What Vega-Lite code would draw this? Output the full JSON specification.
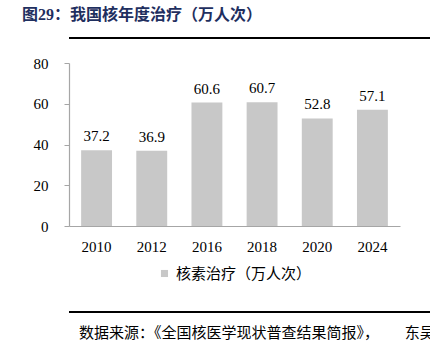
{
  "$schema": "https://vega.github.io/schema/vega-lite/v6.json",
  "background": "white",
  "padding": {"left": 12, "top": 7, "right": 5, "bottom": 4},
  "spacing": 17,
  "align": "none",
  "title": {
    "text": "图29：我国核年度治疗（万人次）",
    "anchor": "start",
    "frame": "bounds",
    "dx": 10,
    "dy": -14,
    "font": "Liberation Serif, Noto Sans CJK SC",
    "fontSize": 16,
    "fontWeight": "bold",
    "color": "#1f2f5f",
    "offset": 0
  },
  "resolve": {"legend": {"color": "independent"}, "scale": {"color": "independent", "x": "independent", "y": "independent"}},
  "config": {
    "view": {"stroke": null},
    "font": "Liberation Serif",
    "legend": {"layout": {"bottom": {"anchor": "middle"}}}
  },
  "vconcat": [
    {
      "width": 403,
      "height": 2,
      "data": {"values": [{"x0": 0, "x1": 1}]},
      "mark": {"type": "rect", "color": "#000000"},
      "encoding": {
        "x": {"field": "x0", "type": "quantitative", "scale": {"domain": [0, 1]}, "axis": null},
        "x2": {"field": "x1"}
      }
    },
    {
      "resolve": {"legend": {"color": "independent"}, "scale": {"color": "independent"}},
      "vconcat": [
        {
          "width": 331,
          "height": 163,
          "data": {
            "values": [
              {"year": "2010", "value": 37.2, "series": "核素治疗（万人次）"},
              {"year": "2012", "value": 36.9, "series": "核素治疗（万人次）"},
              {"year": "2016", "value": 60.6, "series": "核素治疗（万人次）"},
              {"year": "2018", "value": 60.7, "series": "核素治疗（万人次）"},
              {"year": "2020", "value": 52.8, "series": "核素治疗（万人次）"},
              {"year": "2024", "value": 57.1, "series": "核素治疗（万人次）"}
            ]
          },
          "encoding": {
            "x": {
              "field": "year",
              "type": "ordinal",
              "scale": {"paddingInner": 0.44, "paddingOuter": 0.22},
              "axis": {
                "title": null,
                "labelAngle": 0,
                "labelFont": "Liberation Serif",
                "labelFontSize": 15,
                "labelColor": "#000000",
                "labelPadding": 13,
                "ticks": false,
                "domainColor": "#a6a6a6",
                "domainWidth": 1.2
              }
            },
            "y": {
              "field": "value",
              "type": "quantitative",
              "scale": {"domain": [0, 80]},
              "axis": {
                "title": " ",
                "titleFontSize": 2,
                "titlePadding": 19,
                "values": [0, 20, 40, 60, 80],
                "grid": false,
                "labelFont": "Liberation Serif",
                "labelFontSize": 15,
                "labelColor": "#000000",
                "labelPadding": 16,
                "tickSize": 5,
                "tickColor": "#a6a6a6",
                "domainColor": "#a6a6a6",
                "domainWidth": 1.2
              }
            }
          },
          "layer": [
            {
              "mark": {"type": "bar"},
              "encoding": {
                "color": {
                  "field": "series",
                  "type": "nominal",
                  "scale": {"range": ["#c8c8c8"]},
                  "legend": {
                    "title": null,
                    "orient": "bottom",
                    "symbolType": "square",
                    "symbolSize": 50,
                    "symbolStrokeWidth": 0,
                    "labelFont": "Noto Sans CJK SC",
                    "labelFontSize": 15,
                    "labelColor": "#000000",
                    "offset": 0,
                    "padding": 12
                  }
                }
              }
            },
            {
              "mark": {"type": "text", "baseline": "alphabetic", "dy": -9, "font": "Liberation Serif", "fontSize": 15, "color": "#000000"},
              "encoding": {
                "text": {"field": "value", "type": "quantitative", "format": ".1f"}
              }
            }
          ]
        }
      ]
    },
    {
      "title": {
        "text": "数据来源：《全国核医学现状普查结果简报》，　　   东吴",
        "orient": "bottom",
        "anchor": "start",
        "dx": 10,
        "font": "Noto Sans CJK SC",
        "fontSize": 15,
        "fontWeight": "normal",
        "color": "#000000",
        "offset": 13
      },
      "width": 403,
      "height": 2,
      "data": {"values": [{"x0": 0, "x1": 1}]},
      "mark": {"type": "rect", "color": "#000000"},
      "encoding": {
        "x": {"field": "x0", "type": "quantitative", "scale": {"domain": [0, 1]}, "axis": null},
        "x2": {"field": "x1"}
      }
    }
  ]
}
